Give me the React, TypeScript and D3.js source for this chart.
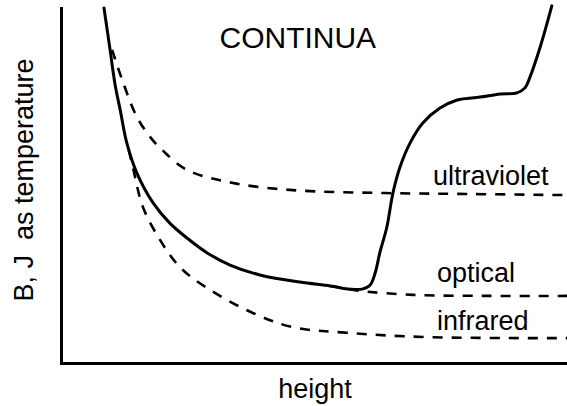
import React, { useEffect, useRef } from "react";
import * as d3 from "d3";

// values: height (0-10) vs temperature (0-10), arbitrary units
const solidB: [number, number][] = [
  [0.85, 10.0], [0.97, 8.82], [1.07, 7.83], [1.17, 7.13], [1.3, 6.2], [1.5, 5.35],
  [1.82, 4.51], [2.15, 3.94], [2.49, 3.52], [2.89, 3.1], [3.34, 2.76], [3.93, 2.48],
  [4.72, 2.28], [5.32, 2.17], [5.71, 2.08], [5.95, 2.08], [6.11, 2.2], [6.21, 2.54],
  [6.3, 3.1], [6.44, 3.83], [6.56, 4.79], [6.7, 5.52], [6.9, 6.2], [7.15, 6.76],
  [7.49, 7.18], [7.83, 7.41], [8.28, 7.49], [8.68, 7.58], [9.01, 7.61], [9.17, 7.75],
  [9.27, 8.06], [9.47, 8.9], [9.7, 10.06],
];
const ultraviolet: [number, number][] = [
  [1.01, 8.82], [1.23, 7.89], [1.5, 6.93], [1.76, 6.37], [2.0, 6.0], [2.49, 5.44],
  [3.4, 5.07], [4.58, 4.87], [6.3, 4.79], [8.08, 4.76], [10.0, 4.73],
];
const optical: [number, number][] = [
  [5.32, 2.17], [5.71, 2.08], [5.91, 2.03], [6.96, 1.92], [8.48, 1.89], [10.0, 1.89],
];
const infrared: [number, number][] = [
  [1.34, 6.0], [1.42, 5.52], [1.62, 4.39], [1.96, 3.46], [2.35, 2.7], [2.89, 2.11],
  [3.79, 1.41], [4.58, 1.01], [5.65, 0.85], [7.23, 0.73], [10.0, 0.7],
];
const labels: { text: string; h: number; t: number }[] = [
  { text: "ultraviolet", h: 7.35, t: 5.01 },
  { text: "optical", h: 7.43, t: 2.28 },
  { text: "infrared", h: 7.43, t: 0.93 },
];
const title = "CONTINUA";
const xTitle = "height";
const yTitle = "B, J  as temperature";

const W = 567;
const H = 406;
const FONT = "'Liberation Sans', Arial, Helvetica, sans-serif";

export default function App() {
  const svgRef = useRef<SVGSVGElement>(null);

  useEffect(() => {
    const svg = d3.select(svgRef.current);
    svg.selectAll("*").remove();

    const x = d3.scaleLinear().domain([0, 10]).range([61, 567]);
    const y = d3.scaleLinear().domain([0, 10]).range([363, 8]);

    const line = d3
      .line<[number, number]>()
      .x((d) => x(d[0]))
      .y((d) => y(d[1]))
      .curve(d3.curveCatmullRom.alpha(0.5));

    // axes: bare lines, no ticks
    const xAxis = d3.axisBottom(x).tickValues([]).tickSizeOuter(0);
    const yAxis = d3.axisLeft(y).tickValues([]).tickSizeOuter(0);
    const gx = svg.append("g").attr("transform", `translate(0,${y(0)})`).call(xAxis);
    const gy = svg.append("g").attr("transform", `translate(${x(0)},0)`).call(yAxis);
    [gx, gy].forEach((g) =>
      g.select(".domain").attr("stroke", "#000").attr("stroke-width", 3).attr("stroke-linecap", "square")
    );

    [ultraviolet, optical, infrared].forEach((d) => {
      svg
        .append("path")
        .datum(d)
        .attr("d", line)
        .attr("fill", "none")
        .attr("stroke", "#000")
        .attr("stroke-width", 2.6)
        .attr("stroke-dasharray", "10 9");
    });

    svg
      .append("path")
      .datum(solidB)
      .attr("d", line)
      .attr("fill", "none")
      .attr("stroke", "#000")
      .attr("stroke-width", 3)
      .attr("stroke-linecap", "round");

    svg
      .selectAll(".lbl")
      .data(labels)
      .join("text")
      .attr("class", "lbl")
      .attr("x", (d) => x(d.h))
      .attr("y", (d) => y(d.t))
      .attr("font-family", FONT)
      .attr("font-size", 27)
      .attr("fill", "#000")
      .text((d) => d.text);

    svg
      .append("text")
      .attr("x", x(4.68))
      .attr("y", y(8.87))
      .attr("text-anchor", "middle")
      .attr("font-family", FONT)
      .attr("font-size", 30)
      .text(title);

    svg
      .append("text")
      .attr("x", 315)
      .attr("y", 398)
      .attr("text-anchor", "middle")
      .attr("font-family", FONT)
      .attr("font-size", 27)
      .text(xTitle);

    svg
      .append("text")
      .attr("transform", "translate(33,180) rotate(-90)")
      .attr("text-anchor", "middle")
      .attr("font-family", FONT)
      .attr("font-size", 27)
      .style("white-space", "pre")
      .text(yTitle);
  }, []);

  return (
    <svg
      ref={svgRef}
      width={W}
      height={H}
      style={{ position: "absolute", left: 0, top: 0, background: "#fff" }}
    />
  );
}
